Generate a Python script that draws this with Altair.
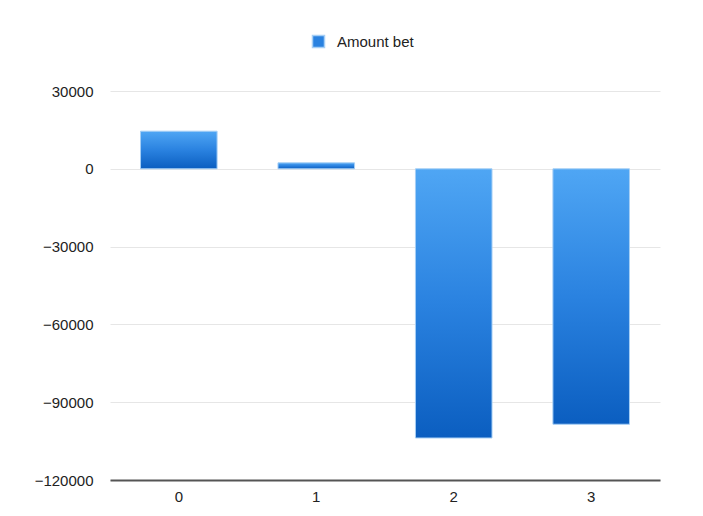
import altair as alt
import pandas as pd

categories = ["0", "1", "2", "3"]
amounts = [14500, 2300, -103800, -98500]
series = ["Amount bet"] * 4
y_ticks = [-120000, -90000, -60000, -30000, 0, 30000]

df = pd.DataFrame({"cat": categories, "amount": amounts, "series": series})

grad = alt.Gradient(
    gradient="linear",
    stops=[
        alt.GradientStop(color="#4fa6f4", offset=0),
        alt.GradientStop(color="#2a82e0", offset=0.5),
        alt.GradientStop(color="#0b5ec0", offset=1),
    ],
    x1=0, x2=0, y1=0, y2=1,
)

font = "Liberation Sans"

chart = alt.Chart(df).mark_bar(
    fill=grad, stroke="#a6cff5", strokeWidth=1
).encode(
    x=alt.X("cat:N", sort=categories, title=None,
            scale=alt.Scale(paddingInner=0.443, paddingOuter=0.222),
            axis=alt.Axis(labelAngle=0, ticks=False, domain=True, domainColor="#555555",
                          domainWidth=2, labelPadding=9, labelFont=font, labelFontSize=15,
                          labelColor="#222222", grid=False)),
    y=alt.Y("amount:Q", title=None,
            scale=alt.Scale(domain=[-120000, 30000], nice=False, zero=False),
            axis=alt.Axis(values=y_ticks, format="d", ticks=False, domain=False,
                          grid=True, gridColor="#e6e6e6", gridWidth=1,
                          labelPadding=17, labelFont=font, labelFontSize=15,
                          labelColor="#222222")),
    color=alt.Color("series:N", scale=alt.Scale(range=["#2a82e0"]),
                    legend=alt.Legend(title=None, orient="none", legendX=201, legendY=-57,
                                      symbolType="square", symbolSize=144, padding=0,
                                      labelFont=font, labelFontSize=15, labelColor="#222222",
                                      labelOffset=11)),
).properties(
    width=550, height=389,
    background="white",
    autosize=alt.AutoSizeParams(type="none"),
    padding={"left": 110, "top": 91, "right": 43, "bottom": 36},
).configure_view(stroke="transparent", strokeWidth=0)

chart.save("out.html", embed_options={"renderer": "svg", "actions": False})
